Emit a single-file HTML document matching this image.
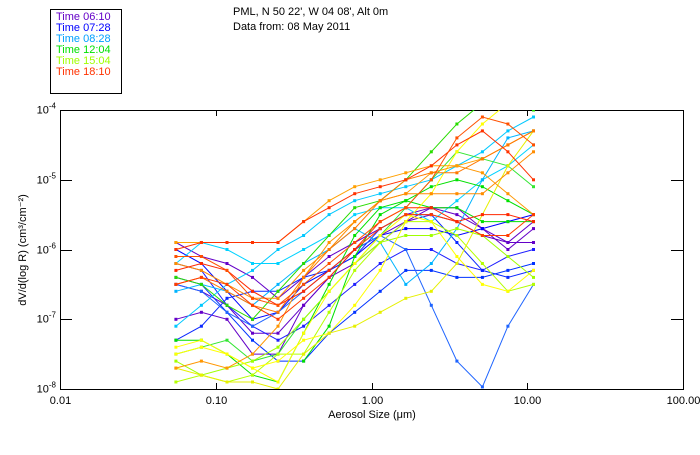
<!DOCTYPE html>
<html><head><meta charset="utf-8"><style>
body{margin:0;background:#fff;width:700px;height:450px;overflow:hidden;font-family:"Liberation Sans",sans-serif;}
svg text{font-family:"Liberation Sans",sans-serif;font-size:11px;}
</style></head><body>
<svg id="chart" width="700" height="450" xmlns="http://www.w3.org/2000/svg">
<g>
<rect x="50.5" y="9.5" width="71" height="84" fill="none" stroke="#000"/>
<text x="56" y="20" fill="#6400c8">Time 06:10</text>
<text x="56" y="31" fill="#0000ff">Time 07:28</text>
<text x="56" y="42" fill="#00a0ff">Time 08:28</text>
<text x="56" y="53" fill="#00e000">Time 12:04</text>
<text x="56" y="64" fill="#a0ff00">Time 15:04</text>
<text x="56" y="75" fill="#ff3200">Time 18:10</text>
</g>
<text x="233" y="15">PML, N 50 22', W 04 08', Alt 0m</text>
<text x="233" y="30">Data from: 08 May 2011</text>
<g id="axes"></g>
<g id="series" clip-path="url(#clip)"></g>
<defs><clipPath id="clip"><rect x="60" y="110" width="623" height="279"/></clipPath></defs>
<text x="372" y="418" text-anchor="middle">Aerosol Size (μm)</text>
<text transform="translate(26,250) rotate(-90)" text-anchor="middle">dV/d(log R)  (cm³/cm⁻²)</text>
</svg>
<script>
const sizeBinExp = [-1.256,-1.092,-0.928,-0.764,-0.600,-0.436,-0.272,-0.108,0.056,0.220,0.384,0.548,0.712,0.876,1.040];
const xTickValues = [0.01,0.1,1,10,100];
const xTickLabels = ["0.01","0.10","1.00","10.00","100.00"];
const yTickExps = [-4,-5,-6,-7,-8];
const seriesColors = ["#6400c8","#6400c8","#6400c8","#0000ff","#1e1eff","#0032ff","#0a28ff","#1e64ff","#00c8ff","#00d2ff","#00b4ff","#00e000","#00e000","#32e632","#28dc00","#a0ff00","#b4ff00","#ffff00","#e6f000","#ffff00","#ff9600","#ff8c00","#ffa000","#ff7800","#ff3200","#ff3c00","#ff2800","#ff5000"];
const s01=[-5.9,-6.1,-6.2,-6.4,-6.7,-6.4,-6.1,-5.9,-5.7,-5.5,-5.4,-5.4,-5.7,-6.0,-5.7];
const s02=[-6.5,-6.6,-6.8,-7.2,-7.2,-6.8,-6.4,-6.2,-5.9,-5.6,-5.5,-5.6,-5.8,-5.9,-5.9];
const s03=[-7.0,-6.9,-7.0,-7.5,-7.5,-6.8,-6.4,-6.0,-5.8,-5.6,-5.4,-5.5,-5.7,-5.9,-5.6];
const s04=[-6.0,-6.2,-6.6,-7.0,-6.9,-6.5,-6.3,-6.1,-5.8,-5.7,-5.7,-5.8,-5.7,-5.6,-5.5];
const s05=[-6.2,-6.3,-6.8,-7.1,-7.3,-7.1,-6.8,-6.5,-6.2,-6.0,-6.0,-6.2,-6.3,-6.1,-6.0];
const s06=[-6.4,-6.5,-6.9,-7.3,-7.6,-7.6,-7.2,-6.9,-6.6,-6.3,-6.3,-6.4,-6.4,-6.3,-6.2];
const s07=[-7.3,-7.1,-6.7,-6.6,-6.6,-6.4,-6.3,-6.1,-5.7,-5.5,-5.5,-5.9,-6.3,-6.4,-6.3];
const s08=[-6.5,-6.6,-6.9,-7.1,-6.9,-6.6,-6.3,-6.0,-5.8,-6.0,-6.8,-7.6,-7.97,-7.1,-6.5];
const s09=[-7.1,-6.8,-6.5,-6.3,-6.0,-5.8,-5.5,-5.3,-5.2,-5.1,-5.0,-4.8,-4.6,-4.3,-4.1];
const s10=[-6.2,-5.9,-6.0,-6.2,-6.2,-6.0,-5.8,-5.5,-5.4,-5.4,-5.6,-5.3,-5.0,-4.8,-4.5];
const s11=[-6.6,-6.5,-6.6,-6.8,-6.5,-6.2,-6.0,-5.7,-5.9,-6.5,-6.2,-5.7,-5.0,-4.4,-4.3];
const s12=[-7.3,-7.3,-7.5,-7.8,-7.9,-7.2,-6.5,-5.8,-5.4,-5.3,-5.4,-5.4,-5.6,-5.6,-5.6];
const s13=[null,null,null,null,null,-7.6,-7.1,-6.1,-5.5,-5.3,-5.1,-5.0,-5.1,-5.3,-5.5];
const s14=[-7.5,-7.4,-7.3,-7.6,-7.5,-7.0,-6.6,-6.2,-5.8,-5.4,-5.0,-4.6,-4.7,-4.8,-5.1];
const s15=[-6.4,-6.5,-6.8,-7.0,-6.6,-6.2,-5.8,-5.4,-5.3,-5.0,-4.6,-4.2,-3.9,-3.9,-4.0];
const s16=[-7.6,-7.8,-7.7,-7.6,-7.4,-7.0,-6.6,-6.2,-5.9,-5.8,-5.8,-5.7,-5.8,-6.1,-6.4];
const s17=[-7.9,-7.8,-7.9,-7.8,-7.5,-7.5,-6.9,-6.3,-5.9,-5.6,-5.6,-5.8,-6.2,-6.6,-6.5];
const s18=[-7.5,-7.4,-7.5,-7.7,-7.6,-7.3,-7.2,-6.8,-6.3,-5.6,-5.2,-4.6,-4.2,-3.9,-3.8];
const s19=[-7.7,-7.8,-7.9,-7.9,-8.0,-7.5,-7.2,-7.1,-6.9,-6.7,-6.6,-6.2,-5.5,-4.8,-4.3];
const s20=[-7.4,-7.3,-7.5,-7.7,-7.9,-7.2,-6.6,-6.2,-5.8,-5.5,-5.6,-6.1,-6.5,-6.6,-6.3];
const s21=[-7.7,-7.6,-7.7,-7.5,-7.1,-6.4,-5.9,-5.6,-5.3,-5.2,-4.9,-4.8,-4.9,-5.2,-5.5];
const s22=[-6.2,-6.3,-6.5,-6.7,-6.7,-6.3,-6.0,-5.6,-5.3,-5.2,-5.2,-5.2,-5.2,-4.9,-4.6];
const s23=[-5.9,-5.9,-5.9,-5.9,-5.9,-5.6,-5.3,-5.1,-5.0,-4.9,-4.8,-4.8,-4.7,-4.5,-4.3];
const s24=[-6.5,-6.4,-6.6,-6.8,-6.9,-6.4,-6.0,-5.7,-5.3,-5.0,-4.9,-4.9,-4.7,-4.5,-4.3];
const s25=[-6.0,-5.9,-5.9,-5.9,-5.9,-5.6,-5.4,-5.2,-5.1,-5.0,-4.8,-4.5,-4.3,-4.6,-5.0];
const s26=[-6.5,-6.4,-6.5,-6.8,-7.0,-6.7,-6.4,-6.0,-5.7,-5.5,-5.5,-5.6,-5.8,-5.8,-5.5];
const s27=[-6.3,-6.2,-6.3,-6.6,-6.8,-6.6,-6.3,-6.0,-5.6,-5.4,-5.4,-5.6,-5.5,-5.5,-5.6];
const s28=[-6.1,-6.1,-6.3,-6.7,-6.8,-6.5,-6.2,-5.9,-5.6,-5.4,-5.0,-4.4,-4.1,-4.2,-4.5];
const allSeries=[s01,s02,s03,s04,s05,s06,s07,s08,s09,s10,s11,s12,s13,s14,s15,s16,s17,s18,s19,s20,s21,s22,s23,s24,s25,s26,s27,s28];

const NS="http://www.w3.org/2000/svg";
const X0=60,X1=683,Y0=110,Y1=389;
function xScale(logv){return X0+(logv+2)/4*(X1-X0);}
function yScale(e){return Y0+(-4-e)/4*(Y1-Y0);}
function mk(tag,attrs,parent){const el=document.createElementNS(NS,tag);for(const k in attrs)el.setAttribute(k,attrs[k]);parent.appendChild(el);return el;}
const axes=document.getElementById('axes');
const frame=mk('rect',{x:X0+0.5,y:Y0+0.5,width:X1-X0,height:Y1-Y0,fill:'none',stroke:'#000'},axes);


xTickValues.forEach((v,i)=>{
  const x=Math.round(xScale(Math.log10(v)))+0.5;
  const t1=mk('line',{x1:x,x2:x,y1:Y1,y2:Y1-6,stroke:'#000'},axes);
  
  
  const t2=mk('line',{x1:x,x2:x,y1:Y0,y2:Y0+6,stroke:'#000'},axes);
  
  
  const lb=mk('text',{x:x,y:Y1+15,'text-anchor':'middle'},axes);
  lb.textContent=xTickLabels[i];
  
  
});
yTickExps.forEach(e=>{
  const y=Math.round(yScale(e))+0.5;
  const t1=mk('line',{x1:X0,x2:X0+12,y1:y,y2:y,stroke:'#000'},axes);
  
  
  const t2=mk('line',{x1:X1,x2:X1-12,y1:y,y2:y,stroke:'#000'},axes);
  
  
  const lb=mk('text',{x:X0-4,y:y+3,'text-anchor':'end'},axes);
  lb.innerHTML='10<tspan dy="-5" font-size="8">'+e+'</tspan>';
  
  
});
const sg=document.getElementById('series');
allSeries.forEach((s,si)=>{
  const col=seriesColors[si];
  const g=mk('g',{},sg);
  
  
  let pts=[];
  s.forEach((v,i)=>{if(v!==null)pts.push([xScale(sizeBinExp[i]),yScale(v)]);});
  const pl=mk('polyline',{points:pts.map(p=>p[0].toFixed(1)+','+p[1].toFixed(1)).join(' '),fill:'none',stroke:col,'stroke-width':1},g);
  
  
  pts.forEach(p=>{
    const r=mk('rect',{x:(p[0]-1.5).toFixed(1),y:(p[1]-1.5).toFixed(1),width:3,height:3,fill:col},g);
    
    
  });
});
</script>
</body></html>
